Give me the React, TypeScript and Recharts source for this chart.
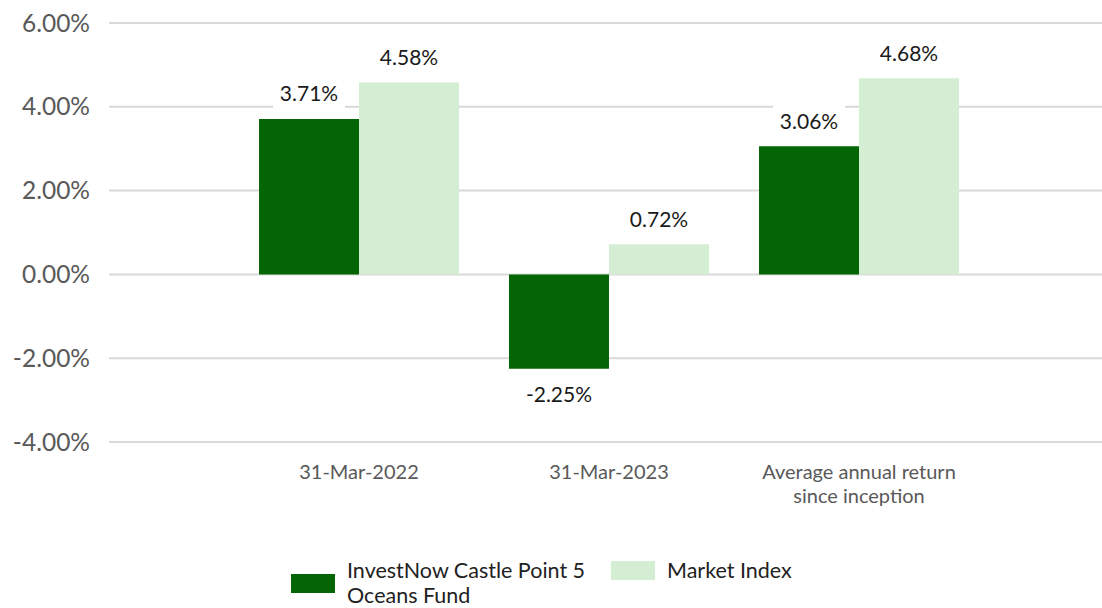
import React from 'react';
import { BarChart, Bar, XAxis, YAxis, CartesianGrid, Legend, LabelList } from 'recharts';

const categories = ['31-Mar-2022', '31-Mar-2023', 'Average annual return since inception'];
const categoryLines = [['31-Mar-2022'], ['31-Mar-2023'], ['Average annual return', 'since inception']];
const fundReturns = [3.71, -2.25, 3.06];
const indexReturns = [4.58, 0.72, 4.68];
const yTicks = [-4, -2, 0, 2, 4, 6];
const fundName = 'InvestNow Castle Point 5 Oceans Fund';
const indexName = 'Market Index';

const FUND_COLOR = '#036503';
const INDEX_COLOR = '#d3eed3';
const FONT = 'Lato, "Open Sans", sans-serif';

const data = categories.map((name, i) => ({
  name,
  fund: fundReturns[i],
  index: indexReturns[i],
}));

const pct = (v: number) => `${v.toFixed(2)}%`;

// value label with a white box behind it, 26px off the bar end
const BarLabel = (props: any) => {
  const { x, y, width, height, value } = props;
  const top = Math.min(y, y + height);
  const bottom = Math.max(y, y + height);
  const cy = value >= 0 ? top - 26 : bottom + 25;
  const cx = x + width / 2;
  const boxW = 72;
  return (
    <g>
      <rect x={cx - boxW / 2} y={cy - 15} width={boxW} height={30} fill="#ffffff" />
      <text
        x={cx}
        y={cy}
        textAnchor="middle"
        dominantBaseline="central"
        fontSize={21}
        fontFamily={FONT}
        fill="#1a1a1a"
      >
        {pct(value)}
      </text>
    </g>
  );
};

const CategoryTick = (props: any) => {
  const { x, y, index } = props;
  const lines = categoryLines[index] || [];
  return (
    <text x={x} y={y} textAnchor="middle" fontSize={20} fontFamily={FONT} fill="#595959">
      {lines.map((line, i) => (
        <tspan key={i} x={x} dy={i === 0 ? 15 : 24}>
          {line}
        </tspan>
      ))}
    </text>
  );
};

const LegendContent = (props: any) => {
  const items = props.payload || [];
  return (
    <div
      style={{
        height: 106,
        boxSizing: 'border-box',
        paddingTop: 56,
        paddingLeft: 291,
        display: 'flex',
        alignItems: 'flex-start',
        fontFamily: FONT,
        fontSize: 21.5,
        lineHeight: '25px',
        color: '#222222',
      }}
    >
      {items.map((item: any, i: number) => (
        <div key={i} style={{ display: 'flex', alignItems: 'center' }}>
          <div style={{ width: 44, height: 19, background: item.color, marginRight: 12, flexShrink: 0 }} />
          <div style={{ width: i === 0 ? 255 : 'auto', marginRight: i === 0 ? 9 : 0, whiteSpace: i === 0 ? 'normal' : 'nowrap' }}>
            {item.value}
          </div>
        </div>
      ))}
    </div>
  );
};

export default function App() {
  return (
    <div style={{ width: 1102, height: 608, background: '#ffffff' }}>
      <style>{'body { margin: 0; }'}</style>
      <BarChart
        width={1102}
        height={608}
        data={data}
        margin={{ top: 23, right: 0, bottom: 0, left: 0 }}
        barCategoryGap="10%"
        barGap={0}
      >
        <CartesianGrid vertical={false} stroke="#d9d9d9" strokeWidth={2} />
        <XAxis
          dataKey="name"
          axisLine={false}
          tickLine={false}
          tickSize={0}
          tickMargin={22}
          height={60}
          padding={{ left: 125, right: 118 }}
          interval={0}
          tick={<CategoryTick />}
        />
        <YAxis
          width={109}
          domain={[-4, 6]}
          ticks={yTicks}
          axisLine={false}
          tickLine={false}
          tickSize={0}
          tickMargin={19}
          tickFormatter={pct}
          tick={{ fill: '#595959', fontSize: 24.5, fontFamily: FONT }}
        />
        <Legend verticalAlign="bottom" content={<LegendContent />} />
        <Bar dataKey="fund" name={fundName} fill={FUND_COLOR} isAnimationActive={false}>
          <LabelList dataKey="fund" content={<BarLabel />} />
        </Bar>
        <Bar dataKey="index" name={indexName} fill={INDEX_COLOR} isAnimationActive={false}>
          <LabelList dataKey="index" content={<BarLabel />} />
        </Bar>
      </BarChart>
    </div>
  );
}
